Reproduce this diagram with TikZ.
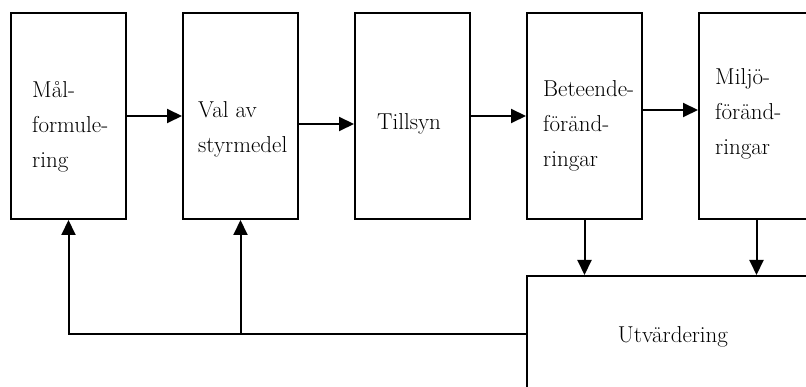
\documentclass[tikz,border=0pt]{standalone}
\usetikzlibrary{arrows.meta}
\begin{document}
\begin{tikzpicture}[x=1pt,y=-1pt,
  box/.style={draw,line width=2pt,minimum width=115pt,minimum height=206pt,inner sep=0pt},
  lbl/.style={align=left,anchor=base west,inner sep=0pt,font=\fontsize{23}{35}\selectfont},
  conn/.style={line width=2pt},
  arr/.style={conn,-{Triangle[length=15pt,width=14pt]}}]
\useasboundingbox (0,0) rectangle (806,387);
\clip (0,0) rectangle (806,387);
\fill[white] (0,0) rectangle (806,387);
\node[box] (b1) at (68.5,116) {};
\node[box] (b2) at (240.5,116) {};
\node[box] (b3) at (412.5,116) {};
\node[box] (b4) at (584.5,116) {};
\node[box] (b5) at (756.5,116) {};
\node[draw,line width=2pt,minimum width=292pt,minimum height=116pt,inner sep=0pt] (utv) at (673,334) {};
\node[lbl] (t1) at (32,168) {Mål-\\formule-\\ring};
\node[lbl] (t2) at (198,153) {Val av\\styrmedel};
\node[lbl] (t3) at (377,130) {Tillsyn};
\node[lbl] (t4) at (543,167) {Beteende-\\föränd-\\ringar};
\node[lbl] (t5) at (715,155) {Miljö-\\föränd-\\ringar};
\node[lbl,anchor=base] (t6) at (673,343) {Utvärdering};
\draw[arr] (b1.east) -- (b2.west);
\draw[arr] ([yshift=-8pt]b2.east) -- ([yshift=-8pt]b3.west);
\draw[arr] (b3.east) -- (b4.west);
\draw[arr] ([yshift=6pt]b4.east) -- ([yshift=6pt]b5.west);
\draw[arr] (b4.south) -- (b4.south |- utv.north);
\draw[arr] (b5.south) -- (b5.south |- utv.north);
\draw[arr] (utv.west) -| (b1.south);
\draw[arr] (b2.south |- utv.west) -- (b2.south);
\end{tikzpicture}
\end{document}
